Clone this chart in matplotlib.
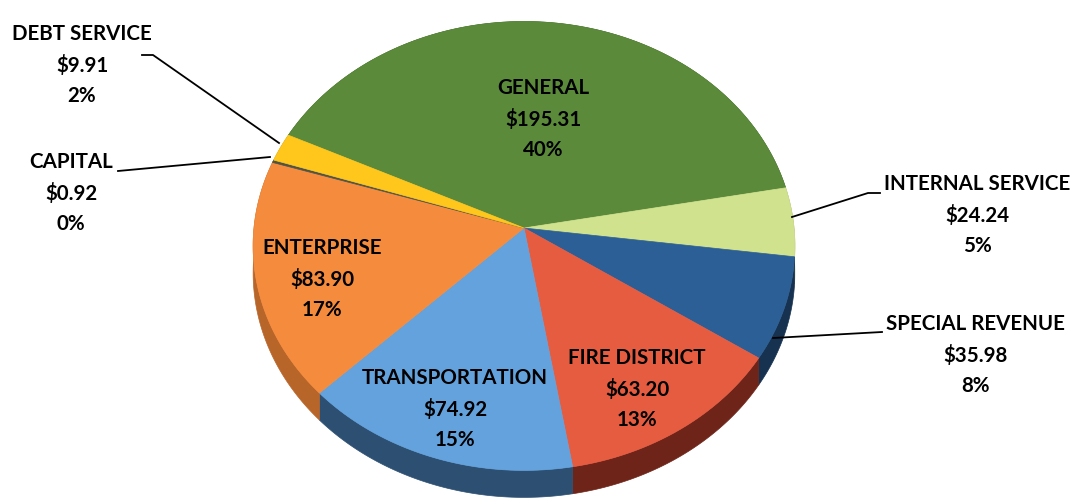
import numpy as np
import matplotlib.pyplot as plt
from matplotlib.patches import Polygon

# fund amounts (millions), clockwise from the top-left
labels = ['GENERAL', 'INTERNAL SERVICE', 'SPECIAL REVENUE', 'FIRE DISTRICT',
          'TRANSPORTATION', 'ENTERPRISE', 'CAPITAL', 'DEBT SERVICE']
values = [195.31, 24.24, 35.98, 63.20, 74.92, 83.90, 0.92, 9.91]
pcts = ['40%', '5%', '8%', '13%', '15%', '17%', '0%', '2%']

top_colors = ['#5b8a3b', '#d1e28e', '#2c5f95', '#e65c41',
              '#63a2dc', '#f58b3d', '#4f5344', '#ffc61c']
side_colors = ['#3d5e27', '#9aa866', '#163250', '#6e2418',
               '#2c4f72', '#b8652a', '#33352b', '#b58c10']

# geometry of the tilted pie (pixel units)
cx, cy = 524, 228
rx, k, p = 270, 223, 0.08
depth = 27
start = 154.5


def proj(theta, r=1.0):
    t = np.radians(theta)
    u, v = r * np.cos(t), r * np.sin(t)
    s = 1 + p * v
    return cx + rx * u / s, cy - k * v / s


fig = plt.figure(figsize=(10.76, 5), dpi=100)
ax = fig.add_axes([0, 0, 1, 1])
ax.set_xlim(0, 1076)
ax.set_ylim(500, 0)
ax.axis('off')

fracs = np.array(values) / sum(values)
edges = start - 360 * np.concatenate([[0], np.cumsum(fracs)])

# sides first
for i in range(len(values)):
    th = np.linspace(edges[i], edges[i + 1], 120)
    xs, ys = proj(th)
    pts = np.column_stack([np.r_[xs, xs[::-1]], np.r_[ys, ys[::-1] + depth]])
    ax.add_patch(Polygon(pts, closed=True, fc=side_colors[i], ec=side_colors[i], lw=0.5))

# top faces
for i in range(len(values)):
    th = np.linspace(edges[i], edges[i + 1], 200)
    xs, ys = proj(th)
    pts = np.column_stack([np.r_[cx, xs], np.r_[cy, ys]])
    ax.add_patch(Polygon(pts, closed=True, fc=top_colors[i], ec=top_colors[i], lw=0.5))

font = dict(family='Lato', fontweight='bold', fontsize=14.8, color='black',
            ha='center', va='center', linespacing=1.62)

# labels inside the pie
inside = {0: (543, 119), 3: (637, 389), 4: (455, 409), 5: (322, 279)}
for i, (x, y) in inside.items():
    ax.text(x, y, f'{labels[i]}\n${values[i]:.2f}\n{pcts[i]}', **font)

# outside labels with leader lines
outside = {
    1: ((977, 215), [(792, 217), (868, 193), (880, 193)]),
    2: ((975, 355), [(773, 338), (882, 332)]),
    6: ((71, 193), [(270, 157), (118, 171)]),
    7: ((82, 65), [(279, 143), (153, 55), (142, 55)]),
}
for i, ((x, y), line) in outside.items():
    ax.text(x, y, f'{labels[i]}\n${values[i]:.2f}\n{pcts[i]}', **font)
    lx, ly = zip(*line)
    ax.plot(lx, ly, color='black', lw=1.3)

fig.savefig('out.png', dpi=100)
